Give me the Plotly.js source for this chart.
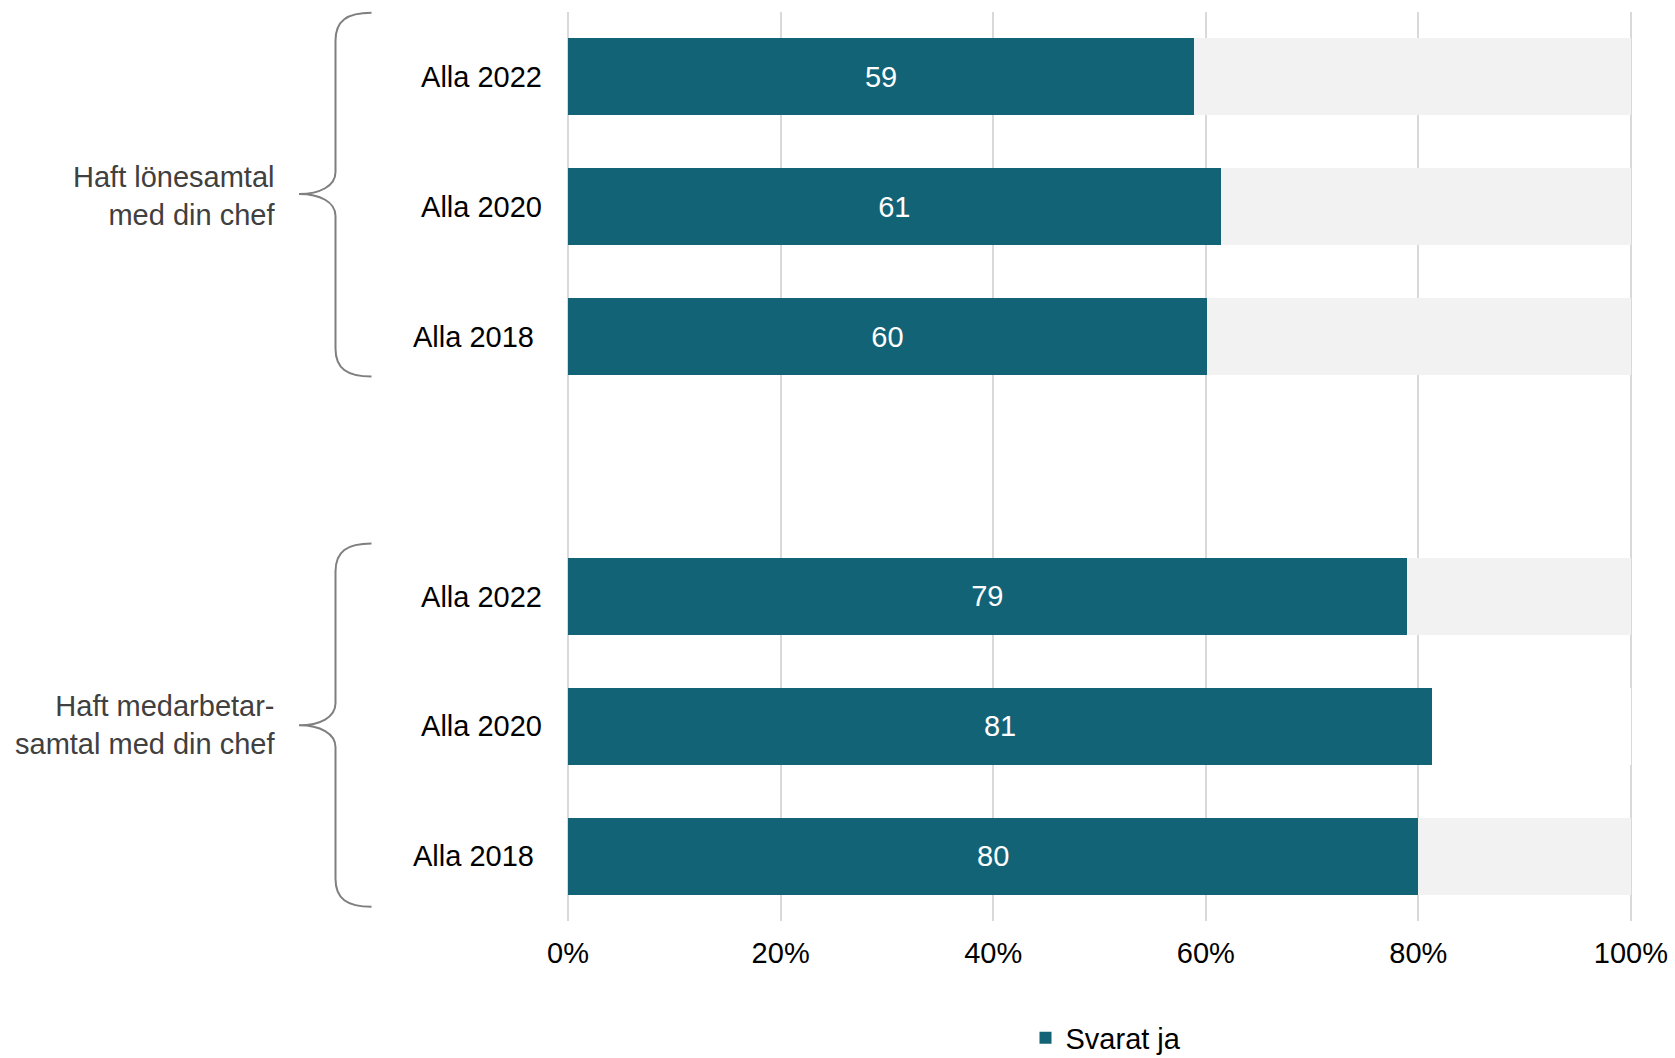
<!DOCTYPE html>
<html>
<head>
<meta charset="utf-8">
<script src="https://cdn.plot.ly/plotly-3.0.1.min.js"></script>
<style>html,body{margin:0;padding:0;background:#fff;}#chart{width:1675px;height:1058px;}</style>
</head>
<body>
<div id="chart"></div>
<script>
// ---- data ----
const groupNames = ["Haft lönesamtal<br>med din chef", "Haft medarbetar-<br>samtal med din chef"];
const group1Labels = ["Alla 2022", "Alla 2020", "Alla 2018\u00a0"];
const group2Labels = ["Alla 2022", "Alla 2020", "Alla 2018\u00a0"];
const group1Values = [58.9, 61.4, 60.1];
const group2Values = [78.9, 81.3, 80.0];
const group1Text = ["59", "61", "60"];
const group2Text = ["79", "81", "80"];
const xTickVals = [0, 20, 40, 60, 80, 100];
const xTickText = ["0%", "20%", "40%", "60%", "80%", "100%"];
const seriesName = "Svarat ja";

// ---- build ----
const W = 1675, H = 1058;
const M = {l: 567, r: 43, t: 12, b: 137};
const plotW = W - M.l - M.r, plotH = H - M.t - M.b;
const px = x => (x - M.l) / plotW;          // pixel -> paper x
const py = y => (H - M.b - y) / plotH;      // pixel -> paper y

const yPos = [...group1Labels.map((_, i) => i), ...group2Labels.map((_, i) => i + group1Labels.length + 1)];
const labels = [...group1Labels, ...group2Labels];
const values = [...group1Values, ...group2Values];
const texts = [...group1Text, ...group2Text];
const rest = values.map(v => 100 - v);
const restColors = values.map((v, i) => i === 4 ? "#ffffff" : "#f2f2f2");

const FONT = "Liberation Sans, Arial, sans-serif";
const teal = "#136377";

const traces = [
  {
    type: "bar", orientation: "h", name: seriesName,
    x: values, y: yPos, width: 0.593,
    marker: {color: teal, line: {width: 0}},
    text: texts, textposition: "inside", insidetextanchor: "middle",
    textfont: {color: "#ffffff", size: 29, family: FONT},
    hoverinfo: "x+y", showlegend: true
  },
  {
    type: "bar", orientation: "h", name: "rest",
    x: rest, y: yPos, width: 0.593,
    marker: {color: restColors, line: {width: 0}},
    hoverinfo: "skip", showlegend: false
  }
];

function brace(top, tip, bottom) {
  const xe = 371.5, xv = 335.5, xt = 299;
  const pts = [
    ["M", [xe, top]],
    ["C", [347, top], [xv, top + 8], [xv, top + 28]],
    ["L", [xv, tip - 22]],
    ["C", [xv, tip - 8], [320, tip], [xt, tip]],
    ["C", [320, tip], [xv, tip + 8], [xv, tip + 22]],
    ["L", [xv, bottom - 28]],
    ["C", [xv, bottom - 8], [347, bottom], [xe, bottom]]
  ];
  return pts.map(s => s[0] + s.slice(1).map(p => px(p[0]).toFixed(5) + "," + py(p[1]).toFixed(5)).join(" ")).join(" ");
}

const shapes = [
  {type: "path", xref: "paper", yref: "paper", path: brace(12.7, 194, 376.5), line: {color: "#7f7f7f", width: 2}},
  {type: "path", xref: "paper", yref: "paper", path: brace(543.5, 725.3, 906.8), line: {color: "#7f7f7f", width: 2}}
];

const annotations = [
  {xref: "paper", yref: "paper", x: px(277), y: py(196), xanchor: "right", yanchor: "middle", align: "right",
   text: groupNames[0], showarrow: false, font: {size: 29, color: "#404040", family: FONT}},
  {xref: "paper", yref: "paper", x: px(277), y: py(725), xanchor: "right", yanchor: "middle", align: "right",
   text: groupNames[1], showarrow: false, font: {size: 29, color: "#404040", family: FONT}}
];

const layout = {
  width: W, height: H,
  margin: Object.assign({autoexpand: false}, M),
  paper_bgcolor: "#ffffff", plot_bgcolor: "#ffffff",
  barmode: "stack",
  font: {family: FONT, size: 29, color: "#000000"},
  xaxis: {
    range: [-0.1, 100.1], tickvals: xTickVals, ticktext: xTickText,
    showgrid: true, gridcolor: "#d9d9d9", gridwidth: 2,
    zeroline: false, showline: false, ticks: "",
    ticklabelstandoff: 12, automargin: false,
    tickfont: {size: 29, color: "#000000", family: FONT}, fixedrange: true
  },
  yaxis: {
    range: [yPos[yPos.length - 1] + 0.5, -0.5],
    tickvals: yPos, ticktext: labels,
    showgrid: false, zeroline: false, showline: false, ticks: "",
    ticklabelstandoff: 24, automargin: false,
    tickfont: {size: 29, color: "#000000", family: FONT}, fixedrange: true
  },
  legend: {
    orientation: "h", xref: "container", yref: "container",
    x: 1106 / W, xanchor: "center", y: (H - 1038) / H, yanchor: "middle",
    font: {size: 29, color: "#000000", family: FONT}, bgcolor: "rgba(0,0,0,0)"
  },
  shapes: shapes,
  annotations: annotations,
  bargap: 0.4
};

Plotly.newPlot("chart", traces, layout, {displayModeBar: false, staticPlot: true});
</script>
</body>
</html>
